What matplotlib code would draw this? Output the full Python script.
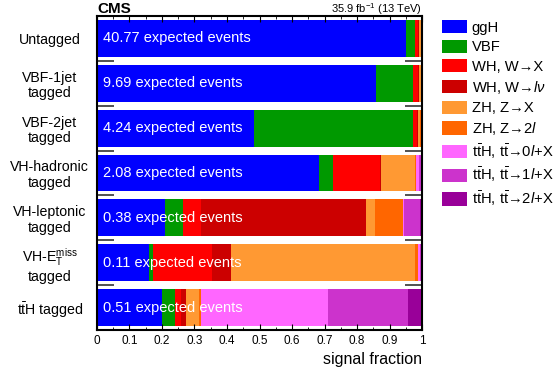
import numpy as np
import matplotlib
matplotlib.use("Agg")
import matplotlib.pyplot as plt
from matplotlib.patches import Patch

plt.rcParams['font.family'] = ['Liberation Sans', 'DejaVu Sans']
plt.rcParams['mathtext.fontset'] = 'custom'
plt.rcParams['mathtext.rm'] = 'Liberation Sans'
plt.rcParams['mathtext.it'] = 'Liberation Sans:italic'
plt.rcParams['mathtext.bf'] = 'Liberation Sans:bold'

# categories, top to bottom
categories = ["Untagged", "VBF-1jet\ntagged", "VBF-2jet\ntagged", "VH-hadronic\ntagged",
              "VH-leptonic\ntagged", "VH-$\\mathrm{E}_\\mathrm{T}^\\mathrm{miss}$\ntagged",
              r"t$\mathrm{\bar{t}}$H tagged"]
expected = ["40.77", "9.69", "4.24", "2.08", "0.38", "0.11", "0.51"]

processes = ["ggH", "VBF", "WH, W→X", r"WH, W→$\mathit{l}\nu$",
             "ZH, Z→X", r"ZH, Z→2$\mathit{l}$",
             r"t$\mathrm{\bar{t}}$H, t$\mathrm{\bar{t}}$→0$\mathit{l}$+X",
             r"t$\mathrm{\bar{t}}$H, t$\mathrm{\bar{t}}$→1$\mathit{l}$+X",
             r"t$\mathrm{\bar{t}}$H, t$\mathrm{\bar{t}}$→2$\mathit{l}$+X"]
colors = ["#0000ff", "#009900", "#ff0000", "#cc0000", "#ff9933", "#ff6600",
          "#ff66ff", "#cc33cc", "#990099"]

# signal fraction per process, one list per category
untagged   = [0.951, 0.027, 0.010, 0.002, 0.006, 0.001, 0.001, 0.001, 0.001]
vbf1jet    = [0.858, 0.114, 0.016, 0.002, 0.006, 0.001, 0.001, 0.001, 0.001]
vbf2jet    = [0.484, 0.489, 0.013, 0.002, 0.007, 0.001, 0.002, 0.001, 0.001]
vhhadronic = [0.683, 0.042, 0.146, 0.004, 0.103, 0.004, 0.010, 0.006, 0.002]
vhleptonic = [0.210, 0.055, 0.056, 0.507, 0.027, 0.088, 0.003, 0.048, 0.006]
vhmet      = [0.160, 0.013, 0.182, 0.057, 0.566, 0.011, 0.005, 0.003, 0.003]
tthtagged  = [0.200, 0.040, 0.020, 0.014, 0.040, 0.006, 0.392, 0.246, 0.042]

fractions = np.array([untagged, vbf1jet, vbf2jet, vhhadronic, vhleptonic, vhmet, tthtagged])

fig = plt.figure(figsize=(5.6, 3.79), dpi=100)
ax = fig.add_axes([0.1732, 0.1293, 0.5804, 0.8285])

y = np.arange(len(categories))
left = np.zeros(len(categories))
for j in range(len(processes)):
    ax.barh(y, fractions[:, j], left=left, height=0.82, color=colors[j], linewidth=0)
    left += fractions[:, j]

for i in range(len(categories)):
    ax.text(0.02, y[i], expected[i] + " expected events", color="white",
            fontsize=10.5, va="center", ha="left")

ax.set_xlim(0, 1)
ax.set_ylim(len(categories) - 0.5, -0.5)
ax.set_yticks(y)
ax.set_yticklabels(categories, fontsize=10.2, ha="center", linespacing=1.15)
ax.tick_params(axis="y", which="major", length=0, pad=34)
ax.set_yticks(np.arange(0.5, len(categories) - 1, 1.0), minor=True)
ax.tick_params(axis="y", which="minor", length=12, width=1.2, direction="in",
               left=True, right=True, color="#333333")

ax.set_xticks(np.arange(0, 1.01, 0.1))
ax.set_xticklabels(["0"] + ["%.1f" % v for v in np.arange(0.1, 0.95, 0.1)] + ["1"], fontsize=8.5)
ax.tick_params(axis="x", which="major", length=4, direction="in", top=True, bottom=True)
ax.set_xticks(np.arange(0, 1.01, 0.05), minor=True)
ax.tick_params(axis="x", which="minor", length=2, direction="in", top=True, bottom=True)
ax.set_xlabel("signal fraction", fontsize=11.5, loc="right")
for s in ax.spines.values():
    s.set_linewidth(1.5)

fig.text(0.1732, 0.965, "CMS", fontsize=11, fontweight="bold", ha="left", va="baseline")
fig.text(0.7536, 0.965, "35.9 fb$^{-1}$ (13 TeV)", fontsize=8, ha="right", va="baseline")

handles = [Patch(facecolor=c, edgecolor="none") for c in colors]
fig.legend(handles, processes, loc="upper left", bbox_to_anchor=(0.778, 0.962),
           frameon=False, fontsize=10.6, handlelength=1.75, handleheight=1.0,
           handletextpad=0.3, labelspacing=0.33, borderaxespad=0)

fig.savefig("out.png", dpi=100)
